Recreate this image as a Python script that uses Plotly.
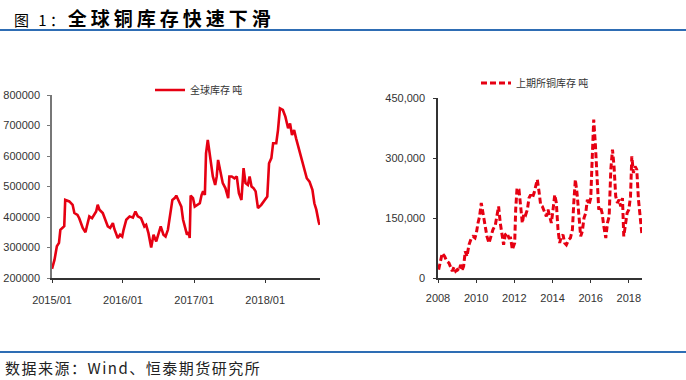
import plotly.graph_objects as go

# ---- Left chart: global copper inventory (tonnes) ----
global_dates = [
    "2015-01-01", "2015-01-14", "2015-01-26", "2015-02-06", "2015-02-13", "2015-02-27",
    "2015-03-05", "2015-03-10", "2015-03-31", "2015-04-17", "2015-04-26", "2015-05-12",
    "2015-05-21", "2015-06-08", "2015-06-22", "2015-06-29", "2015-07-12", "2015-07-26",
    "2015-08-16", "2015-08-24", "2015-09-02", "2015-09-19", "2015-10-03", "2015-10-15",
    "2015-10-27", "2015-11-10", "2015-11-18", "2015-12-05", "2015-12-17", "2015-12-28",
    "2016-01-04", "2016-01-18", "2016-02-04", "2016-02-21", "2016-03-05", "2016-03-17",
    "2016-04-03", "2016-04-20", "2016-04-29", "2016-05-11", "2016-05-25", "2016-06-06",
    "2016-06-20", "2016-07-03", "2016-07-13", "2016-07-27", "2016-08-07", "2016-08-19",
    "2016-09-01", "2016-09-11", "2016-09-23", "2016-10-01", "2016-10-15", "2016-10-27",
    "2016-11-05", "2016-11-17", "2016-11-25", "2016-12-04", "2016-12-09", "2016-12-14",
    "2016-12-26", "2017-01-04", "2017-01-16", "2017-01-30", "2017-02-08", "2017-02-16",
    "2017-02-25", "2017-03-03", "2017-03-12", "2017-03-20", "2017-03-29", "2017-04-07",
    "2017-04-19", "2017-04-27", "2017-05-04", "2017-05-11", "2017-05-19", "2017-05-28",
    "2017-06-11", "2017-06-25", "2017-07-01", "2017-07-13", "2017-07-27", "2017-08-08",
    "2017-08-19", "2017-09-01", "2017-09-12", "2017-09-22", "2017-10-04", "2017-10-13",
    "2017-10-23", "2017-11-03", "2017-11-13", "2017-11-25", "2017-12-12", "2017-12-29",
    "2018-01-12", "2018-01-21", "2018-02-02", "2018-02-11", "2018-02-27", "2018-03-08",
    "2018-03-18", "2018-04-02", "2018-04-15", "2018-04-29", "2018-05-09", "2018-05-19",
    "2018-05-30", "2018-06-09", "2018-06-26", "2018-07-08", "2018-07-21", "2018-08-03",
    "2018-08-17", "2018-09-01", "2018-09-11", "2018-09-21", "2018-10-03", "2018-10-08",
]
global_stock = [
    230000, 260000, 304000, 315000, 358000, 369000,
    370000, 456000, 451000, 440000, 413000, 407000,
    396000, 364000, 350000, 369000, 402000, 396000,
    418000, 440000, 424000, 413000, 391000, 369000,
    364000, 380000, 360000, 331000, 342000, 336000,
    358000, 391000, 402000, 398000, 418000, 402000,
    396000, 369000, 374000, 347000, 300000, 342000,
    320000, 347000, 369000, 342000, 336000, 358000,
    424000, 456000, 462000, 470000, 451000, 434000,
    391000, 358000, 342000, 350000, 331000, 470000,
    462000, 434000, 440000, 445000, 472000, 484000,
    472000, 609000, 653000, 620000, 576000, 533000,
    505000, 533000, 587000, 565000, 544000, 511000,
    494000, 462000, 533000, 533000, 527000, 533000,
    478000, 456000, 560000, 511000, 505000, 533000,
    500000, 494000, 484000, 429000, 440000, 456000,
    467000, 576000, 593000, 642000, 642000, 685000,
    756000, 751000, 729000, 691000, 707000, 669000,
    685000, 658000, 620000, 587000, 555000, 527000,
    516000, 489000, 445000, 424000, 385000, 374000,
]
global_name = "全球库存 吨"
global_yticks = [200000, 300000, 400000, 500000, 600000, 700000, 800000]
global_xticks = ["2015-01-01", "2016-01-01", "2017-01-01", "2018-01-01"]
global_xticklabels = ["2015/01", "2016/01", "2017/01", "2018/01"]

# ---- Right chart: SHFE copper inventory (tonnes) ----
shfe_dates = [
    "2008-01-13", "2008-02-20", "2008-03-22", "2008-05-06", "2008-06-20", "2008-07-28",
    "2008-08-30", "2008-10-01", "2008-11-02", "2008-12-04", "2009-01-05", "2009-02-07",
    "2009-03-08", "2009-04-10", "2009-05-05", "2009-06-06", "2009-07-08", "2009-08-16",
    "2009-09-30", "2009-11-01", "2009-12-09", "2010-01-04", "2010-02-05", "2010-03-07",
    "2010-04-08", "2010-05-10", "2010-06-11", "2010-07-26", "2010-09-03", "2010-10-04",
    "2010-11-18", "2011-01-03", "2011-02-04", "2011-03-06", "2011-04-07", "2011-05-09",
    "2011-06-10", "2011-07-12", "2011-08-13", "2011-09-21", "2011-10-22", "2011-11-24",
    "2011-12-19", "2012-01-08", "2012-01-27", "2012-02-22", "2012-03-30", "2012-05-01",
    "2012-06-02", "2012-07-04", "2012-08-05", "2012-09-07", "2012-10-08", "2012-11-10",
    "2012-12-11", "2013-01-13", "2013-02-14", "2013-03-16", "2013-04-17", "2013-05-19",
    "2013-06-20", "2013-07-22", "2013-09-05", "2013-10-07", "2013-11-08", "2013-12-10",
    "2014-01-11", "2014-02-13", "2014-03-15", "2014-04-16", "2014-05-18", "2014-06-19",
    "2014-07-21", "2014-08-22", "2014-09-23", "2014-11-07", "2014-12-09", "2015-01-17",
    "2015-02-12", "2015-03-14", "2015-04-15", "2015-05-23", "2015-06-24", "2015-07-26",
    "2015-08-27", "2015-09-29", "2015-10-30", "2015-12-01", "2016-01-03", "2016-02-04",
    "2016-02-29", "2016-04-01", "2016-05-03", "2016-06-04", "2016-07-06", "2016-08-07",
    "2016-09-09", "2016-10-17", "2016-11-18", "2016-12-20", "2017-01-21", "2017-02-22",
    "2017-03-24", "2017-04-25", "2017-05-27", "2017-06-28", "2017-07-30", "2017-09-01",
    "2017-09-26", "2017-10-28", "2017-11-29", "2018-01-01", "2018-02-02", "2018-02-27",
    "2018-03-30", "2018-05-01", "2018-06-02", "2018-07-04", "2018-08-05", "2018-09-06",
]
shfe_stock = [
    21000, 46000, 62000, 54000, 42000, 37500,
    25000, 17000, 27500, 17000, 21000, 17000,
    33000, 21000, 29000, 67000, 54000, 83000,
    100000, 104000, 100000, 112000, 137500, 154000,
    187500, 162500, 129000, 104000, 87500, 104000,
    121000, 133000, 154000, 179000, 137500, 104000,
    83000, 108000, 112500, 100000, 100000, 71000,
    83000, 87500, 171000, 225000, 221000, 179000,
    137500, 162500, 158000, 171000, 200000, 208000,
    200000, 212500, 233000, 246000, 217000, 183000,
    179000, 167000, 154000, 171000, 154000, 137500,
    171000, 208000, 187500, 121000, 87500, 104000,
    108000, 87500, 83000, 96000, 100000, 121000,
    187500, 246000, 212500, 154000, 104000, 117000,
    150000, 162500, 196000, 183000, 200000, 312500,
    396000, 333000, 246000, 171000, 179000, 162500,
    129000, 100000, 137500, 154000, 271000, 321000,
    279000, 204000, 187500, 196000, 179000, 200000,
    104000, 137500, 162500, 171000, 204000, 304000,
    262500, 279000, 271000, 196000, 154000, 112500,
]
shfe_name = "上期所铜库存 吨"
shfe_yticks = [0, 150000, 300000, 450000]
shfe_xticks = ["2008-01-01", "2010-01-01", "2012-01-01", "2014-01-01", "2016-01-01", "2018-01-01"]
shfe_xticklabels = ["2008", "2010", "2012", "2014", "2016", "2018"]

title_main = "全球铜库存快速下滑"
title_prefix = "图 1："
source_text = "数据来源：Wind、恒泰期货研究所"

W, H = 686, 380
RED = "#e60012"
BLUE = "#2e6db4"
TICKFONT = dict(family="Liberation Sans, Arial, sans-serif", size=11, color="#333333")
CJK = "Noto Sans CJK SC"

def px(x):
    return x / W

def py(y):
    return 1 - y / H

fig = go.Figure()
fig.add_trace(go.Scatter(
    x=global_dates, y=global_stock, mode="lines", name=global_name,
    line=dict(color=RED, width=2.6), xaxis="x", yaxis="y", legend="legend",
))
fig.add_trace(go.Scatter(
    x=shfe_dates, y=shfe_stock, mode="lines", name=shfe_name,
    line=dict(color=RED, width=3, dash="6px,3px"), xaxis="x2", yaxis="y2", legend="legend2",
))

axis_common = dict(showgrid=False, zeroline=False, showline=True, ticks="outside",
                   ticklen=3, tickwidth=1, tickfont=TICKFONT, automargin=False)

fig.update_layout(
    width=W, height=H,
    margin=dict(l=0, r=0, t=0, b=0, autoexpand=False),
    paper_bgcolor="white", plot_bgcolor="white",
    xaxis=dict(domain=[px(52), px(320)], type="date", range=["2015-01-01", "2018-10-10"],
               tickvals=global_xticks, ticktext=global_xticklabels, anchor="y",
               ticklabelstandoff=8,
               linecolor="#333333", linewidth=1.5, tickcolor="#333333", **axis_common),
    yaxis=dict(domain=[py(278), py(95)], range=[200000, 800000], tickvals=global_yticks,
               ticktext=[str(v) for v in global_yticks], anchor="x",
               ticklabelstandoff=5,
               linecolor="#777777", linewidth=1.5, tickcolor="#777777", **axis_common),
    xaxis2=dict(domain=[px(438), px(642)], type="date", range=["2008-01-01", "2018-09-10"],
                tickvals=shfe_xticks, ticktext=shfe_xticklabels, anchor="y2",
                ticklabelstandoff=6,
                linecolor="#333333", linewidth=1.5, tickcolor="#333333", **axis_common),
    yaxis2=dict(domain=[py(278), py(98)], range=[0, 450000], tickvals=shfe_yticks,
                ticktext=[f"{v:,}" for v in shfe_yticks], anchor="x2",
                ticklabelstandoff=6,
                linecolor="#333333", linewidth=1.5, tickcolor="#333333", **axis_common),
    legend=dict(x=px(150), y=py(90), xanchor="left", yanchor="middle",
                font=dict(family=CJK, size=10, color="#333333"), bgcolor="rgba(0,0,0,0)",
                borderwidth=0),
    legend2=dict(x=px(476), y=py(83), xanchor="left", yanchor="middle",
                 font=dict(family=CJK, size=10, color="#333333"), bgcolor="rgba(0,0,0,0)",
                 borderwidth=0),
    showlegend=True,
    shapes=[
        dict(type="line", xref="paper", yref="paper", x0=0, x1=1, y0=py(30), y1=py(30),
             line=dict(color=BLUE, width=2)),
        dict(type="line", xref="paper", yref="paper", x0=0, x1=1, y0=py(352), y1=py(352),
             line=dict(color=BLUE, width=2)),
    ],
    annotations=[
        dict(text=(f"<span style='font-size:15px;letter-spacing:3px'>{title_prefix}</span>"
                   f"<span style='font-weight:bold;letter-spacing:4px'>{title_main}</span>"),
             xref="paper", yref="paper", x=px(12), y=py(17), xanchor="left", yanchor="middle",
             showarrow=False, font=dict(family=CJK, size=19, color="#000000")),
        dict(text=f"<span style='letter-spacing:1.5px'>{source_text}</span>",
             xref="paper", yref="paper", x=px(3), y=py(367),
             xanchor="left", yanchor="middle", showarrow=False,
             font=dict(family=CJK, size=15, color="#222222")),
    ],
)

fig.write_html("out.html", config={"displayModeBar": False},
               post_script="document.body.style.margin='0';")
